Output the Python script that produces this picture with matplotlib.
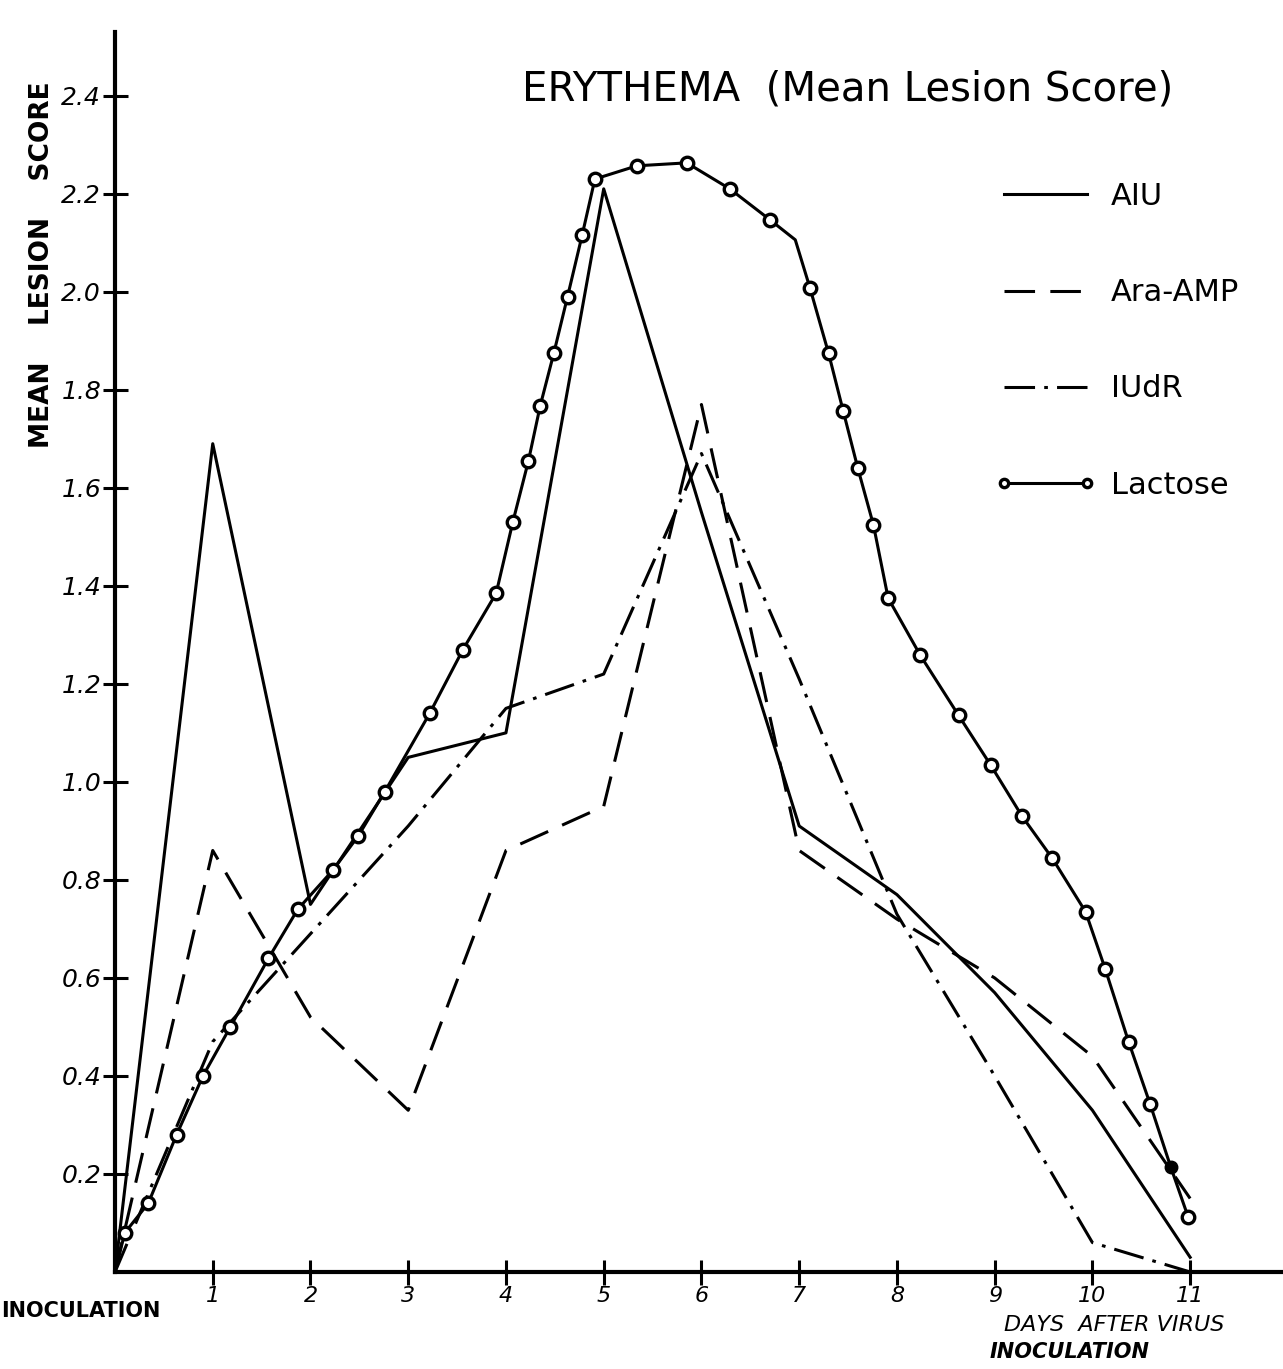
import matplotlib
matplotlib.use("Agg")
import matplotlib.pyplot as plt

# --- data ---
days = [0, 1, 2, 3, 4, 5, 6, 7, 8, 9, 10, 11]
aiu = [0.0, 1.69, 0.75, 1.05, 1.10, 2.21, 1.55, 0.91, 0.77, 0.57, 0.33, 0.03]
ara_amp = [0.0, 0.86, 0.52, 0.33, 0.86, 0.95, 1.77, 0.86, 0.72, 0.60, 0.44, 0.15]
iudr = [0.0, 0.47, 0.69, 0.91, 1.15, 1.22, 1.67, 1.21, 0.73, 0.40, 0.06, 0.0]

lactose_x = [0.0, 0.10, 0.34, 0.63, 0.90, 1.18, 1.57, 1.87, 2.23, 2.49, 2.76,
             3.22, 3.56, 3.90, 4.07, 4.23, 4.35, 4.49, 4.63, 4.78, 4.91,
             5.34, 5.85, 6.29, 6.70, 6.96, 7.11, 7.30, 7.45, 7.60, 7.76,
             7.91, 8.24, 8.63, 8.96, 9.28, 9.59, 9.93, 10.13, 10.37, 10.59,
             10.80, 10.98]
lactose_y = [0.0, 0.08, 0.14, 0.28, 0.40, 0.50, 0.64, 0.74, 0.82, 0.89, 0.98,
             1.14, 1.27, 1.385, 1.53, 1.655, 1.767, 1.875, 1.99, 2.116, 2.23,
             2.257, 2.263, 2.21, 2.147, 2.106, 2.008, 1.875, 1.757, 1.64, 1.524,
             1.375, 1.258, 1.136, 1.034, 0.93, 0.844, 0.735, 0.619, 0.47, 0.343,
             0.215, 0.112]
# points drawn as open circles; the last-but-one is a filled dot
lactose_open = [i for i in range(len(lactose_x)) if i not in (0, 25, len(lactose_x) - 2)]
lactose_filled = len(lactose_x) - 2

yticks = [0.2, 0.4, 0.6, 0.8, 1.0, 1.2, 1.4, 1.6, 1.8, 2.0, 2.2, 2.4]
ytick_labels = ["0.2", "0.4", "0.6", "0.8", "1.0", "1.2", "1.4", "1.6", "1.8", "2.0", "2.2", "2.4"]
xticks = [1, 2, 3, 4, 5, 6, 7, 8, 9, 10, 11]

plt.rcParams['font.family'] = ['DejaVu Sans']

W, H = 1283, 1369
fig = plt.figure(figsize=(W / 100, H / 100), dpi=100)
ax = fig.add_axes([115 / W, (H - 1272) / H, (W - 115) / W, (1272 - 32) / H])
ax.set_xlim(0, 11.95)
ax.set_ylim(0, 2.53)

lw = 2.2
ax.plot(days, aiu, color='black', lw=lw, label='AIU')
ax.plot(days, ara_amp, color='black', lw=lw, dashes=(10, 5), label='Ara-AMP')
ax.plot(days, iudr, color='black', lw=lw, dashes=(10, 3, 1.2, 3), label='IUdR')
ax.plot(lactose_x, lactose_y, color='black', lw=lw, marker='o', markersize=9,
        markerfacecolor='white', markeredgewidth=2.4, markevery=lactose_open,
        label='Lactose')
ax.plot(lactose_x[lactose_filled], lactose_y[lactose_filled], 'o', color='black', markersize=9)

# axes styling
for side in ('top', 'right'):
    ax.spines[side].set_visible(False)
for side in ('left', 'bottom'):
    ax.spines[side].set_linewidth(3)
ax.set_yticks(yticks)
ax.set_yticklabels(ytick_labels, fontsize=18, fontstyle='italic')
ax.set_xticks(xticks)
ax.set_xticklabels([str(d) for d in xticks], fontsize=16, fontstyle='italic')
ax.tick_params(direction='inout', length=18, width=2.2, pad=1)

ax.set_title('ERYTHEMA  (Mean Lesion Score)', fontsize=29, x=(848 - 115) / (W - 115),
             y=(1272 - 98) / (1272 - 32), va='center')
fig.text(42 / W, 1 - 265 / H, 'MEAN    LESION    SCORE', rotation=90, fontsize=19,
         fontweight='bold', ha='center', va='center')
fig.text(81 / W, 1 - 1311 / H, 'INOCULATION', fontsize=15, fontweight='bold',
         ha='center', va='center')
fig.text(1114 / W, 1 - 1325 / H, 'DAYS  AFTER VIRUS', fontsize=16, fontstyle='italic',
         ha='center', va='center')
fig.text(1070 / W, 1 - 1352 / H, 'INOCULATION', fontsize=15, fontstyle='italic',
         fontweight='bold', ha='center', va='center')

leg = ax.legend(loc='upper left', bbox_to_anchor=(995 / W, 1 - 182 / H),
                bbox_transform=fig.transFigure, frameon=False, fontsize=22,
                handlelength=3.3, handletextpad=0.5, labelspacing=2.2,
                borderpad=0, borderaxespad=0, numpoints=2)
for h in leg.legend_handles:
    h.set_markersize(6)

fig.savefig('out.png', dpi=100, facecolor='white')
